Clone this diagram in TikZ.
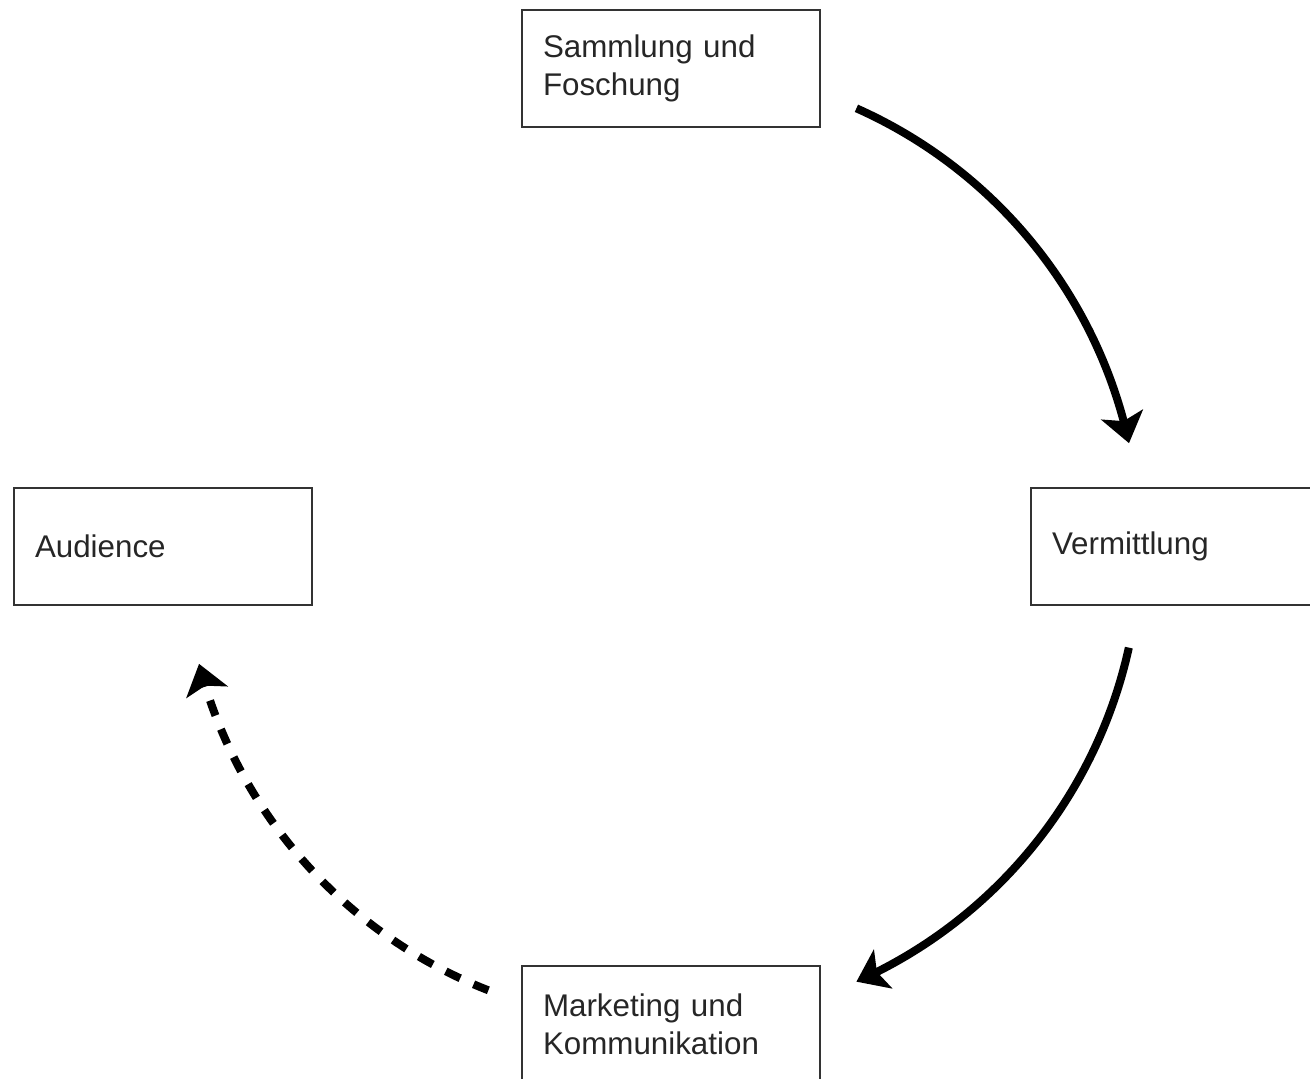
\documentclass[tikz,border=0pt]{standalone}
\usepackage{fontspec}
\setmainfont{Liberation Sans}
\usetikzlibrary{arrows.meta,bending,calc}
\begin{document}
\begin{tikzpicture}[x=0.75pt,y=0.75pt,
  box/.style={draw=black!80, line width=1.5pt, anchor=north west,
    minimum width=223.5pt, minimum height=87.75pt, inner xsep=15.75pt,
    text width=192pt, align=left, text=black!85,
    font=\fontsize{23.5}{28.5}\selectfont},
  flow/.style={line width=6pt, -{Stealth[length=22pt,width=32pt,inset=5pt,flex]}},
  flowdash/.style={flow, dash pattern=on 12pt off 11pt}]
\useasboundingbox (0,0) rectangle (1310,1078);
\node[box] (samm) at (521,1069) {Sammlung und\\Foschung};
\node[box] (verm) at (1030,591) {Vermittlung};
\node[box] (aud) at (13,591) {Audience};
\node[box] (mark) at (521,113) {Marketing und\\Kommunikation};
\coordinate (c) at (662,533);
\coordinate (a1) at ($(c)+(66:358.5pt)$);
\coordinate (a2) at ($(c)+(-12.4:358.5pt)$);
\coordinate (a3) at ($(c)+(-111.3:358.5pt)$);
\draw[flow] (a1) arc[start angle=66, end angle=12.3, radius=358.5pt];
\draw[flow] (a2) arc[start angle=-12.4, end angle=-66, radius=358.5pt];
\draw[flowdash] (a3) arc[start angle=-111.3, end angle=-165.6, radius=358.5pt];
\end{tikzpicture}
\end{document}
